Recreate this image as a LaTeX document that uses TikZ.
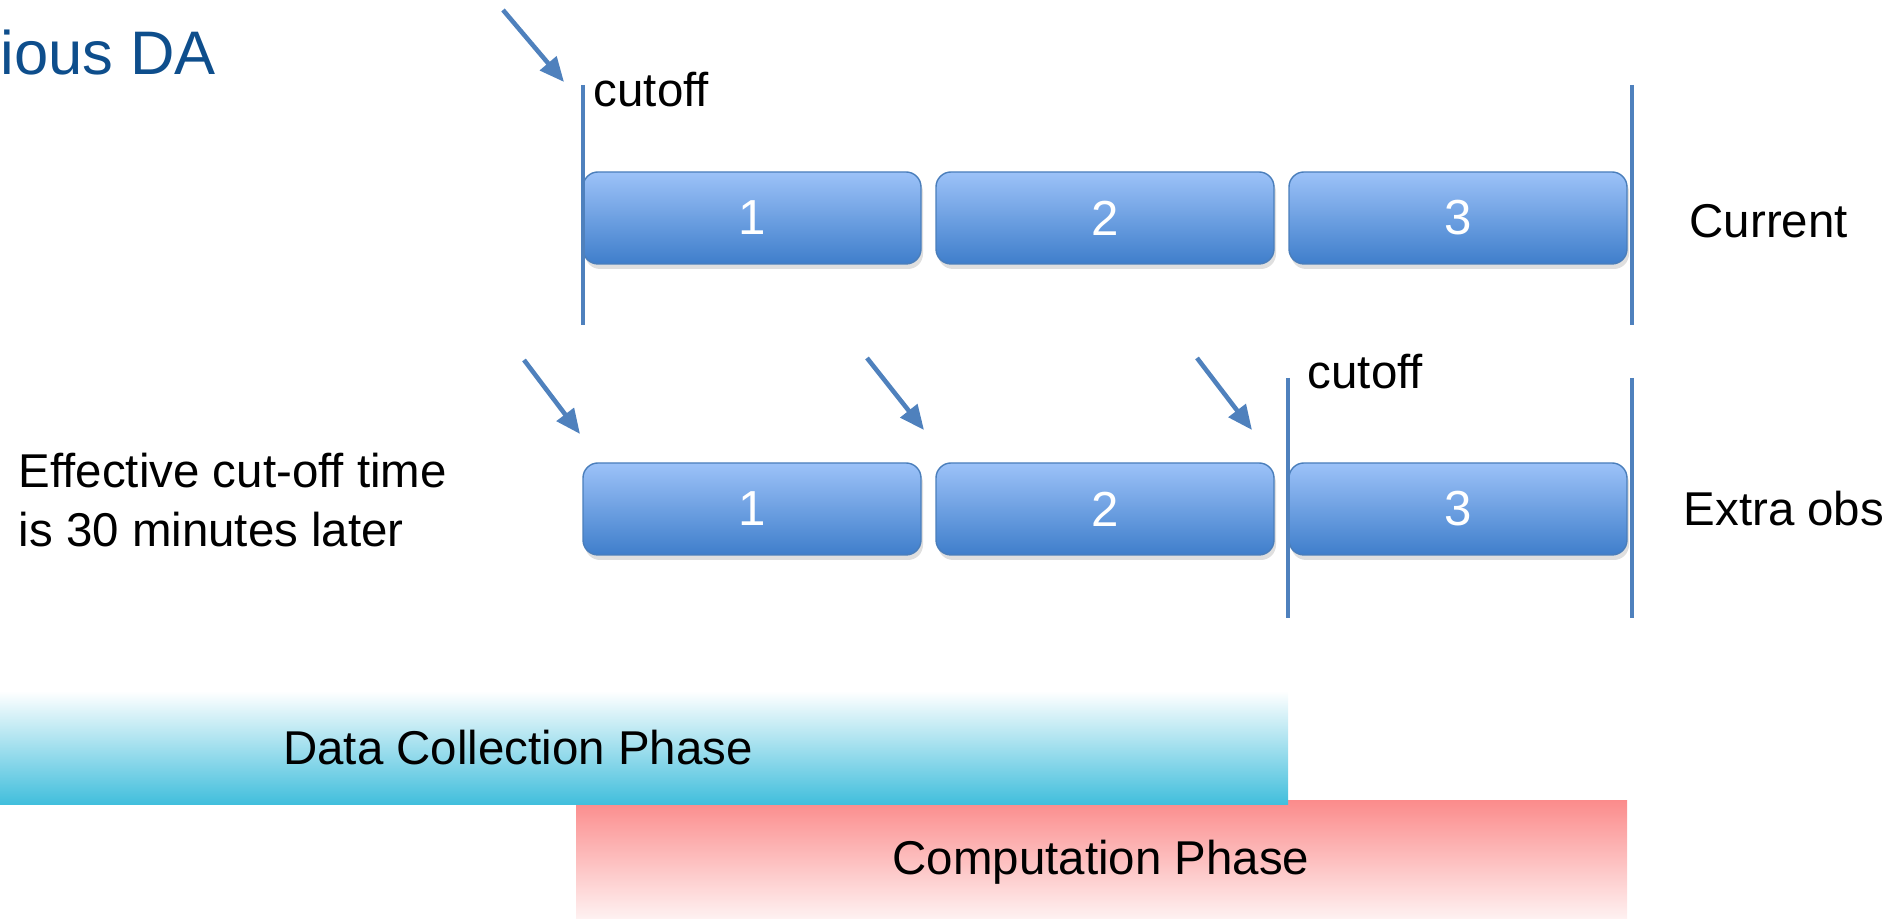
\documentclass[tikz,border=0pt]{standalone}
\usepackage{fontspec}
\setmainfont{Liberation Sans}
\usetikzlibrary{arrows.meta,shadows}
\definecolor{lineblue}{HTML}{4F81BD}
\definecolor{boxtop}{HTML}{9CC2F8}
\definecolor{boxbot}{HTML}{3F7ECB}
\definecolor{boxedge}{HTML}{4A7EBB}
\definecolor{titleblue}{HTML}{0E4E8C}
\definecolor{datacyan}{HTML}{40BEDC}
\definecolor{compred}{HTML}{FB8C8C}

\begin{document}
\begin{tikzpicture}[
  slot/.style={draw=boxedge, rounded corners=0.15cm, top color=boxtop, bottom color=boxbot,
    minimum width=3.38cm, minimum height=0.92cm, text=white, font=\fontsize{14}{16}\selectfont,
    drop shadow={opacity=0.25, shadow xshift=0.02cm, shadow yshift=-0.05cm}},
  cutline/.style={lineblue, line width=1.3pt},
  obsarrow/.style={lineblue, line width=1.3pt, -{Triangle[length=7pt, width=6pt]}},
  txt/.style={font=\fontsize{13.5}{17}\selectfont, inner sep=0pt}
]
  \useasboundingbox (0, 0) rectangle (19.01, 9.19);

  \node[anchor=west, inner sep=0pt, text=titleblue, font=\fontsize{17.5}{20}\selectfont] (title) at (0, 8.66) {ious DA};

  % time slots
  \foreach \n/\x in {1/7.52, 2/11.05, 3/14.58} {
    \node[slot] (cur\n) at (\x, 7.01) {\n};
    \node[slot] (ext\n) at (\x, 4.10) {\n};
  }

  % cutoff lines
  \draw[cutline] (5.83, 8.34) coordinate (cutA1) -- (5.83, 5.94) coordinate (cutA2);
  \draw[cutline] (16.32, 8.34) coordinate (endA1) -- (16.32, 5.94) coordinate (endA2);
  \draw[cutline] (12.88, 5.41) coordinate (cutB1) -- (12.88, 3.01) coordinate (cutB2);
  \draw[cutline] (16.32, 5.41) coordinate (endB1) -- (16.32, 3.01) coordinate (endB2);

  \node[txt, anchor=base west] (cutoffA) at (5.93, 8.12) {cutoff};
  \node[txt, anchor=base west] (cutoffB) at (13.07, 5.30) {cutoff};

  % observation arrows
  \coordinate (obs0s) at (5.03, 9.09);  \coordinate (obs0e) at (5.64, 8.37);
  \coordinate (obs1s) at (5.24, 5.59);  \coordinate (obs1e) at (5.80, 4.85);
  \coordinate (obs2s) at (8.67, 5.61);  \coordinate (obs2e) at (9.24, 4.89);
  \coordinate (obs3s) at (11.97, 5.61); \coordinate (obs3e) at (12.52, 4.89);
  \foreach \i in {0, ..., 3} {
    \draw[obsarrow] (obs\i s) -- (obs\i e);
  }

  \node[txt, anchor=west] (current) at (16.89, 6.98) {Current};
  \node[txt, anchor=west] (extra) at (16.83, 4.10) {Extra obs};
  \node[txt, anchor=west, align=left] (effective) at (0.18, 4.19) {Effective cut-off time\\is 30 minutes later};

  % phases
  \shade[top color=compred, middle color=compred!88!white, bottom color=compred!8!white] (5.76, -0.05) rectangle (16.27, 1.18);
  \shade[top color=white, middle color=datacyan!45!white, bottom color=datacyan] (0, 1.14) rectangle (12.88, 2.28);
  \node[txt] (dataphase) at (5.18, 1.71) {Data Collection Phase};
  \node[txt] (compphase) at (11.01, 0.57) {Computation Phase};
\end{tikzpicture}
\end{document}
